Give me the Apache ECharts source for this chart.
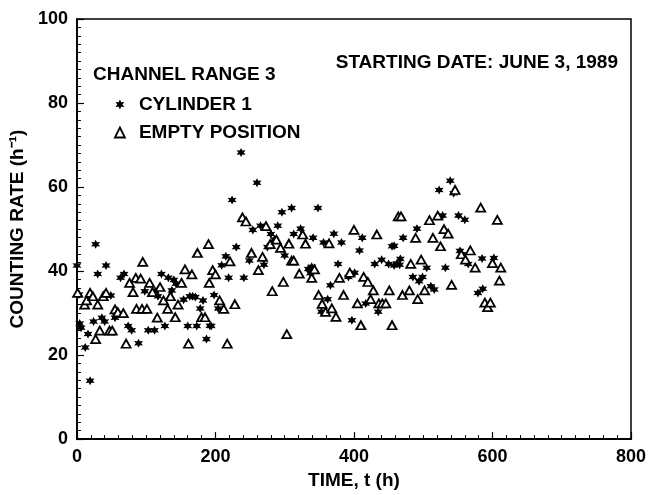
<!DOCTYPE html>
<html>
<head>
<meta charset="utf-8">
<script src="https://cdn.jsdelivr.net/npm/echarts@6/dist/echarts.min.js"></script>
<style>html,body{margin:0;padding:0;background:#fff}#c{width:649px;height:495px}</style>
</head>
<body>
<div id="c"></div>
<script>
// Cylinder 1 (asterisks): time (h), counting rate (1/h)
var cylX = [0,3,4,6,12,16,19,24,27,30,36,40,42,49,55,57,63,68,74,79,89,98,103,112,113,117,122,127,132,137,140,143,154,160,163,167,171,173,178,182,187,192,
  194,198,204,209,215,219,224,230,237,241,249,254,260,265,270,275,280,285,290,296,300,310,313,323,334,337,339,341,348,353,356,362,366,371,377,382,
  392,397,401,408,412,417,430,435,440,450,455,458,458,462,466,467,471,485,491,494,499,505,511,516,523,528,532,539,544,551,553,556,560,565,579,585,586,602];
var cylY = [41.3,34.4,27.5,26.5,21.8,25,13.9,28,46.4,39.3,28.9,28,41.3,34.2,28.9,30,38.4,39.3,26.9,25.9,22.8,35.2,25.9,25.9,35.2,34,39.3,26.9,38.4,35.4,37.9,37,33.2,26.9,34,34,33.8,26.9,31.1,33,23.8,27,
  26.9,34.3,31.1,41.4,43.5,38.4,56.9,45.7,68.2,38.4,42.5,49.8,61,50.8,41.5,45.7,48.8,47.5,50.8,54,43.7,55,48.8,50.1,40.5,39.5,41,47.9,55,30.3,46.8,33.3,36.6,48.9,41.7,46.8,
  38.6,28.3,39.6,44.9,47.9,32.3,41.7,30.3,42.7,41.7,45.9,46,41.3,41.8,41.5,42.9,47.9,38.6,50.1,37.6,38.6,40.8,36.4,35.6,59.3,53.2,40.8,61.5,58.5,53.2,44.8,44,52.2,41.7,34.8,43,35.8,43.1];

// Empty position (triangles)
var emptyX = [1,11,14,19,23,27,30,33,38,42,47,51,55,59,67,71,76,81,85,86,92,94,95,101,105,109,116,120,125,131,135,142,146,151,156,161,166,174,180,185,190,191,196,200,
  206,212,217,221,228,239,244,252,262,268,273,279,282,288,294,298,303,306,310,313,321,326,330,339,343,349,354,359,364,368,374,379,385,
  394,400,405,410,414,420,424,428,433,436,441,446,451,455,464,468,470,480,482,489,492,497,502,509,514,521,525,530,536,541,546,555,561,568,575,583,589,593,597,600,607,610,612];
var emptyY = [34.8,32,33,34.8,34,23.8,32,25.8,34,34.8,25.8,25.8,30.9,30.2,30,22.7,37.2,35,38.4,31,38.2,31,42.2,31,37.2,35,28.9,36.2,33,31,34,29,32,37.2,40.4,22.7,39.2,44.3,29,29,46.4,37.2,40.2,39.2,
  33,31,22.7,42.3,32.1,52.8,51.8,44.3,40.2,43.4,50.7,46.4,35.2,47.5,45.5,37.4,25,46.5,42.5,42.5,39.4,48.7,46.5,38.4,40.4,34.3,32.2,30.3,46.6,31.1,29.1,38.4,34.3,
  39.6,49.8,32.3,27.1,38.6,37.4,33.3,35.4,48.7,32.3,32.3,32.3,35.4,27.1,53,53,34.3,35.4,41.7,47.9,33.3,42.7,35.4,52.1,47.9,53.2,45.9,50,48.9,36.7,59.3,44,42.7,44.9,40.8,55.1,32.5,31.4,32.5,41.9,52.2,37.7,40.8];

var xTicks = [0, 200, 400, 600, 800];
var yTicks = [0, 20, 40, 60, 80, 100];

function pairs(xs, ys) { return xs.map(function (x, i) { return [x, ys[i]]; }); }

var starPath = 'path://M0,-10 L2.6,-4.5 L8.66,-5 L5.2,0 L8.66,5 L2.6,4.5 L0,10 L-2.6,4.5 L-8.66,5 L-5.2,0 L-8.66,-5 L-2.6,-4.5 Z';
var FONT = 'Liberation Sans, Arial, Helvetica, sans-serif';

var chart = echarts.init(document.getElementById('c'), null, {renderer: 'canvas'});
var axisCommon = {
  type: 'value',
  axisLine: {show: true, lineStyle: {color: '#000', width: 1.8}},
  axisTick: {show: true, inside: true, length: 7, lineStyle: {color: '#000', width: 1.2}},
  minorTick: {show: true, splitNumber: 10, length: 4, lineStyle: {color: '#000', width: 1}},
  splitLine: {show: false},
  axisLabel: {color: '#000', fontSize: 18, fontWeight: 'bold', fontFamily: FONT, margin: 9},
  nameTextStyle: {color: '#000', fontSize: 19, fontWeight: 'bold', fontFamily: FONT},
  nameLocation: 'middle'
};
var textStyle = {fontSize: 19, fontWeight: 'bold', fontFamily: FONT, color: '#000'};
chart.setOption({
  animation: false,
  backgroundColor: '#fff',
  grid: {left: 74, right: 15, top: 19, bottom: 53, show: true, borderColor: '#000', borderWidth: 1.5, containLabel: false},
  title: [
    {text: 'CHANNEL RANGE 3', left: 88, top: 60, textStyle: textStyle},
    {text: 'STARTING DATE: JUNE 3, 1989', right: 26, top: 48, textStyle: textStyle}
  ],
  legend: {
    orient: 'vertical', left: 109, top: 90, itemWidth: 10, itemHeight: 10, itemGap: 9,
    textStyle: Object.assign({}, textStyle, {padding: [0, 0, 0, 9]}),
    data: [
      {name: 'CYLINDER 1', icon: starPath, itemStyle: {color: '#000'}},
      {name: 'EMPTY POSITION', icon: 'triangle', itemStyle: {color: '#fff', borderColor: '#000', borderWidth: 1.8}}
    ]
  },
  xAxis: Object.assign({}, axisCommon, {min: xTicks[0], max: xTicks[xTicks.length - 1], interval: 200, name: 'TIME, t (h)', nameGap: 30}),
  yAxis: Object.assign({}, axisCommon, {min: yTicks[0], max: yTicks[yTicks.length - 1], interval: 20, name: 'COUNTING RATE (h\u207B\u00B9)', nameGap: 44}),
  series: [
    {name: 'CYLINDER 1', type: 'scatter', symbol: starPath, symbolSize: 9,
      itemStyle: {color: '#000', opacity: 1}, data: pairs(cylX, cylY)},
    {name: 'EMPTY POSITION', type: 'scatter', symbol: 'triangle', symbolSize: [9, 8],
      itemStyle: {color: '#fff', borderColor: '#000', borderWidth: 1.8, opacity: 1}, data: pairs(emptyX, emptyY)}
  ]
});
</script>
</body>
</html>
